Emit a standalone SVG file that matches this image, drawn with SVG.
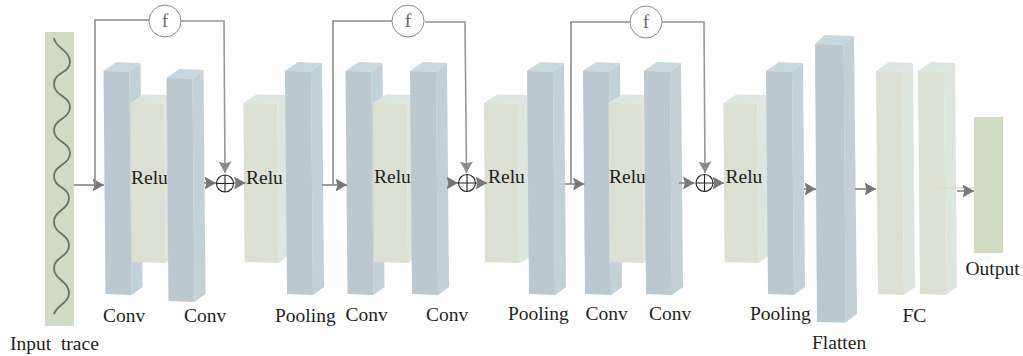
<svg xmlns="http://www.w3.org/2000/svg" width="1023" height="356" viewBox="0 0 1023 356">
<style>
text{font-family:"Liberation Serif","Times New Roman",serif;font-size:19.5px;fill:#231f20;white-space:pre}
.cf{fill:#bbc8cf}.cs{fill:#c2d1d8}.ct{fill:#c8d8df}
.rf{fill:#dbe0d3}.rs{fill:#dde5df}.rt{fill:#dbe6e1}
.in{fill:#cfdcc3}
.wave{fill:none;stroke:#6e6e6e;stroke-width:1.8}
.lk{fill:none;stroke:#8c8c8c;stroke-width:1.6}
.ar{fill:none;stroke:#7c7c7c;stroke-width:1.5;marker-end:url(#ah)}
.dn{fill:none;stroke:#979797;stroke-width:1.6;marker-end:url(#ad)}
.fc{fill:#fff;stroke:#8a8a8a;stroke-width:1}
.ft{fill:#6a6a6a;text-anchor:middle}
.pc{fill:none;stroke:#231f20;stroke-width:1.1}
</style>
<defs>
<marker id="ah" markerUnits="userSpaceOnUse" markerWidth="13" markerHeight="14" refX="11.500" refY="6.500" orient="auto"><path d="M0,0L11.500,6.500L0,13L2,6.500Z" fill="#777"/></marker>
<marker id="ad" markerUnits="userSpaceOnUse" markerWidth="13" markerHeight="14" refX="11.500" refY="6.500" orient="auto"><path d="M0,0L11.500,6.500L0,13L2,6.500Z" fill="#8c8c8c"/></marker>
<g id="conv"><polygon class="cs" points="26,71.5 37,63 39,287 28,295"/><polygon class="ct" points="0,71 13,62 37,63 26,71.5"/><polygon class="cf" points="0,71 26,71.5 28,295 2,294"/></g>
<g id="relu"><polygon class="rs" points="34,103.5 44,95 45,256 35,263"/><polygon class="rt" points="0,103 13,94.5 44,95 34,103.5"/><polygon class="rf" points="0,103 34,103.5 35,263 1,262"/></g>
<g id="fcb"><polygon class="rs" points="26,71.5 37,63 39,287 28,295"/><polygon class="rt" points="0,71 13,62 37,63 26,71.5"/><polygon class="rf" points="0,71 26,71.5 28,295 2,294"/></g>
</defs>
<rect width="1023" height="356" fill="#fff"/>
<g id="input"><rect class="in" x="45" y="32" width="29" height="294"/>
<path class="wave" d="M54,38C55,48 70,50 70,62C70,73 54,72 54,84C54,96 70,96 70,107C70,119 54,119 54,130C54,142 70,142 70,153C70,165 54,165 54,176C54,188 69,187 69,198C69,210 54,210 54,222C54,234 69,234 69,245C69,257 54,257 54,268C54,280 69,281 69,293C69,303 57,305 54,314"/>
<text x="10" y="350">Input  trace</text></g>
<g id="conv1"><use href="#conv" x="103.5"/><text x="103" y="322">Conv</text></g>
<g id="relu1"><use href="#relu" x="130.5"/><text x="131" y="184">Relu</text></g>
<g id="conv2"><use href="#conv" x="166.5" y="7"/><text x="184" y="322">Conv</text></g>
<g id="relu2"><use href="#relu" x="243.5"/><text x="246" y="183.5">Relu</text></g>
<g id="pool1"><use href="#conv" x="285"/><text x="275" y="322">Pooling</text></g>
<g id="conv3"><use href="#conv" x="345.5"/><text x="345.5" y="321">Conv</text></g>
<g id="relu3"><use href="#relu" x="373"/><text x="374" y="183">Relu</text></g>
<g id="conv4"><use href="#conv" x="410"/><text x="426" y="321">Conv</text></g>
<g id="relu4"><polygon class="rs" points="520,103.5 530,95 531,256 521,263"/><use href="#relu" x="484"/><text x="488" y="183">Relu</text></g>
<g id="pool2"><use href="#conv" x="527"/><text x="508" y="320">Pooling</text></g>
<g id="conv5"><use href="#conv" x="583"/><text x="585.5" y="320">Conv</text></g>
<g id="relu5"><use href="#relu" x="608.5"/><text x="609" y="183">Relu</text></g>
<g id="conv6"><use href="#conv" x="644"/><text x="649" y="320">Conv</text></g>
<g id="relu6"><use href="#relu" x="723.5"/><text x="725.5" y="183">Relu</text></g>
<g id="pool3"><use href="#conv" x="766"/><text x="750" y="320">Pooling</text></g>
<g id="flatten"><polygon class="cs" points="843.7,44.5 854,36 857,314 845.7,322.5"/><polygon class="ct" points="815,44 825,35 854,36 843.7,44.5"/><polygon class="cf" points="815,44 843.7,44.5 845.7,322.5 817,322"/><text x="812" y="349">Flatten</text></g>
<g id="fc1"><use href="#fcb" x="876"/></g>
<g id="fc2"><use href="#fcb" x="918"/><text x="902.5" y="322">FC</text></g>
<g id="output"><rect class="in" x="974" y="117" width="29" height="136"/><text x="965.5" y="275">Output</text></g>
<g id="connectors">
<path class="ar" d="M74,185H104"/>
<path class="lk" d="M95,185V20H149"/>
<path class="dn" d="M181,21H224L225,173"/>
<path class="ar" d="M204,183H216"/>
<path class="ar" d="M234,183H245.500"/>
<path class="ar" d="M322,185H347"/>
<path class="lk" d="M333,185V21H392"/>
<path class="dn" d="M425,22H465L466.500,173"/>
<path class="ar" d="M448,183H458"/>
<path class="ar" d="M476,183H487"/>
<path class="ar" d="M565,184H584.500"/>
<path class="lk" d="M571,184V22H630"/>
<path class="dn" d="M662,22H704L705,173"/>
<path class="ar" d="M679,183H694.500"/>
<path class="ar" d="M713,183H724"/>
<path class="ar" d="M804,189H816"/>
<path class="ar" d="M855,189H876"/>
<path d="M938,188H974" fill="none" stroke="#e0d3b8" stroke-width="1"/>
<path class="ar" d="M957,191H974"/>
</g>
<g id="f1"><circle class="fc" cx="165" cy="21" r="16"/><text class="ft" x="165" y="27">f</text></g>
<g id="f2"><circle class="fc" cx="408" cy="21" r="16"/><text class="ft" x="408" y="27">f</text></g>
<g id="f3"><circle class="fc" cx="646" cy="22" r="16"/><text class="ft" x="646" y="28">f</text></g>
<g id="add1"><circle class="pc" cx="225" cy="183.500" r="8.500"/><path class="pc" d="M216.500,183.500H233.500M225,175V192"/></g>
<g id="add2"><circle class="pc" cx="467" cy="183" r="8.500"/><path class="pc" d="M458.500,183H475.500M467,174.500V191.500"/></g>
<g id="add3"><circle class="pc" cx="704.500" cy="183" r="8.500"/><path class="pc" d="M696,183H713M704.500,174.500V191.500"/></g>
</svg>
